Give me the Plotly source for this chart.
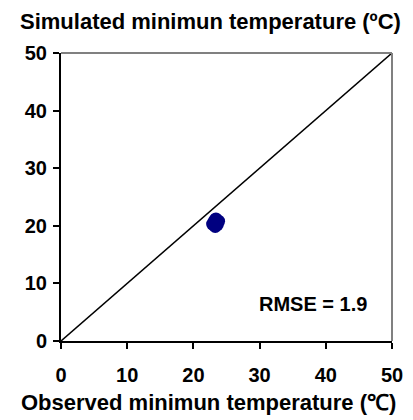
import plotly.graph_objects as go

obs_x = [22.9, 23.2, 23.5, 23.8, 23.3, 23.6, 23.1, 23.4]
sim_y = [20.3, 20.9, 20.5, 20.8, 19.9, 20.2, 20.6, 21.2]
line_x = [0, 50]
line_y = [0, 50]
tick_vals = [0, 10, 20, 30, 40, 50]
rmse_text = "RMSE = 1.9"
y_title = "Simulated minimun temperature (ºC)"
x_title = "Observed minimun temperature (℃)"

font = "Liberation Sans, Arial, sans-serif"

fig = go.Figure()
fig.add_trace(go.Scatter(x=line_x, y=line_y, mode="lines",
                         line=dict(color="black", width=1.5), hoverinfo="skip"))
fig.add_trace(go.Scatter(x=obs_x, y=sim_y, mode="markers",
                         marker=dict(color="#000080", size=13, symbol="circle",
                                     line=dict(width=0))))

fig.add_annotation(x=46.5, y=6.4, xanchor="right", yanchor="middle", showarrow=False,
                   text="<b>" + rmse_text + "</b>", font=dict(family=font, size=20, color="black"))

fig.add_annotation(xref="paper", yref="paper", x=-0.13, y=1.108, xanchor="left", yanchor="middle",
                   showarrow=False, text="<b>" + y_title + "</b>",
                   font=dict(family=font, size=22, color="black"))
fig.add_annotation(xref="paper", yref="paper", x=0.447, y=-0.215, xanchor="center", yanchor="middle",
                   showarrow=False, text="<b>" + x_title + "</b>",
                   font=dict(family=font, size=22, color="black"))

# gray top and right borders
fig.add_shape(type="line", xref="paper", yref="paper", x0=0, x1=1, y0=1, y1=1,
              line=dict(color="#808080", width=2))
fig.add_shape(type="line", xref="paper", yref="paper", x0=1, x1=1, y0=0, y1=1,
              line=dict(color="#808080", width=2))

axis_common = dict(range=[0, 50], tickvals=tick_vals, showgrid=False, zeroline=False,
                   showline=True, linecolor="black", linewidth=2, ticks="outside",
                   ticklen=6, tickwidth=2, tickcolor="black", automargin=False,
                   tickfont=dict(family=font, size=20, color="black", weight="bold"))

fig.update_xaxes(**axis_common, ticklabelstandoff=9)
fig.update_yaxes(**axis_common, ticklabelstandoff=2)

fig.update_layout(width=405, height=412, margin=dict(l=53, r=21, t=45, b=79),
                  plot_bgcolor="white", paper_bgcolor="white", showlegend=False)

fig.write_html("out.html")
